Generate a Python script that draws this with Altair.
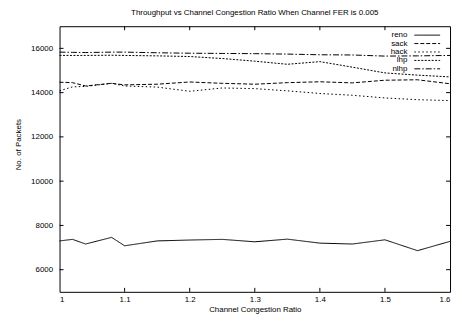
import altair as alt
import pandas as pd

ratio = [1.0, 1.02, 1.04, 1.08, 1.1, 1.15, 1.2, 1.25, 1.3, 1.35, 1.4, 1.45, 1.5, 1.55, 1.6]
reno = [7300, 7370, 7160, 7460, 7080, 7300, 7340, 7370, 7260, 7380, 7200, 7160, 7350, 6860, 7280]
sack = [14470, 14450, 14300, 14420, 14350, 14380, 14480, 14420, 14380, 14450, 14490, 14440, 14560, 14580, 14400]
hack = [14080, 14260, 14280, 14420, 14300, 14250, 14060, 14210, 14180, 14080, 13960, 13880, 13760, 13680, 13640]
lhp = [15680, 15680, 15680, 15690, 15680, 15660, 15630, 15540, 15420, 15280, 15400, 15150, 14890, 14790, 14710]
nlhp = [15830, 15820, 15810, 15830, 15830, 15800, 15780, 15770, 15760, 15740, 15710, 15700, 15650, 15660, 15680]

series_names = ["reno", "sack", "hack", "lhp", "nlhp"]
dashes = [[1, 0], [4, 2], [1.5, 2.5], [2, 1.5], [6, 2, 1.5, 2]]
x_ticks = [1.0, 1.1, 1.2, 1.3, 1.4, 1.5, 1.6]
y_ticks = [6000, 8000, 10000, 12000, 14000, 16000]

FONT = "Liberation Sans"
W, H = 394, 268

rows = []
for name, vals in zip(series_names, [reno, sack, hack, lhp, nlhp]):
    for r, v in zip(ratio, vals):
        rows.append({"ratio": r, "packets": v, "series": name})
df = pd.DataFrame(rows)

xscale = alt.Scale(domain=[1.0, 1.6], nice=False, zero=False)
yscale = alt.Scale(domain=[5000, 17000], nice=False, zero=False)
dash_scale = alt.Scale(domain=series_names, range=dashes)

xaxis = alt.Axis(
    values=x_ticks, title="Channel Congestion Ratio", tickSize=0, domain=False,
    grid=False, labelPadding=4, format="~g", titleY=18, titleBaseline="middle")
yaxis = alt.Axis(
    values=y_ticks, title="No. of Packets", tickSize=0, domain=False,
    grid=False, labelPadding=7, format="d", titleX=-41, titleY=119, titleAngle=-90,
    titleBaseline="middle", titleAlign="center")

lines = alt.Chart(df).mark_line(strokeWidth=1, color="black").encode(
    x=alt.X("ratio:Q", scale=xscale, axis=xaxis),
    y=alt.Y("packets:Q", scale=yscale, axis=yaxis),
    strokeDash=alt.StrokeDash("series:N", scale=dash_scale, legend=None),
    detail="series:N",
)

ydf = pd.DataFrame({"v": y_ticks})
xdf = pd.DataFrame({"v": x_ticks[1:-1]})
tick_style = dict(color="black", strokeWidth=1)
yt_left = alt.Chart(ydf).mark_rule(**tick_style).encode(
    y=alt.Y("v:Q", scale=yscale, axis=yaxis), x=alt.value(0), x2=alt.value(4))
yt_right = alt.Chart(ydf).mark_rule(**tick_style).encode(
    y=alt.Y("v:Q", scale=yscale, axis=yaxis), x=alt.value(W - 4), x2=alt.value(W))
xt_bot = alt.Chart(xdf).mark_rule(**tick_style).encode(
    x=alt.X("v:Q", scale=xscale, axis=xaxis), y=alt.value(H - 4), y2=alt.value(H))
xt_top = alt.Chart(xdf).mark_rule(**tick_style).encode(
    x=alt.X("v:Q", scale=xscale, axis=xaxis), y=alt.value(0), y2=alt.value(4))

main = alt.layer(lines, yt_left, yt_right, xt_bot, xt_top)

ldf = pd.DataFrame({"series": series_names})
lscale = alt.Scale(type="point", domain=series_names, range=[9, 43], padding=0)
leg_text = alt.Chart(ldf).mark_text(
    align="right", baseline="middle", font=FONT, fontSize=8, color="black"
).encode(
    y=alt.Y("series:N", scale=lscale, axis=None),
    x=alt.value(351),
    text="series:N",
)
leg_line = alt.Chart(ldf).mark_rule(strokeWidth=1, color="black").encode(
    y=alt.Y("series:N", scale=lscale, axis=None),
    x=alt.value(358), x2=alt.value(384),
    strokeDash=alt.StrokeDash("series:N", scale=dash_scale, legend=None),
)
legend = alt.layer(leg_text, leg_line)

chart = alt.layer(main, legend).resolve_scale(y="independent").properties(
    width=W, height=H,
    background="white",
    autosize=alt.AutoSizeParams(type="none"),
    padding={"left": 52, "top": 17, "right": 4, "bottom": 22},
    title=alt.TitleParams(
        "Throughput vs Channel Congestion Ratio When Channel FER is 0.005",
        fontSize=8, font=FONT, fontWeight="normal", anchor="middle",
        offset=9, color="black"),
).configure_view(stroke="black", strokeWidth=1).configure_axis(
    labelFont=FONT, titleFont=FONT, labelFontSize=8, titleFontSize=8,
    labelColor="black", titleColor="black", titleFontWeight="normal",
)

chart.save("out.html", embed_options={"renderer": "svg", "actions": False})
